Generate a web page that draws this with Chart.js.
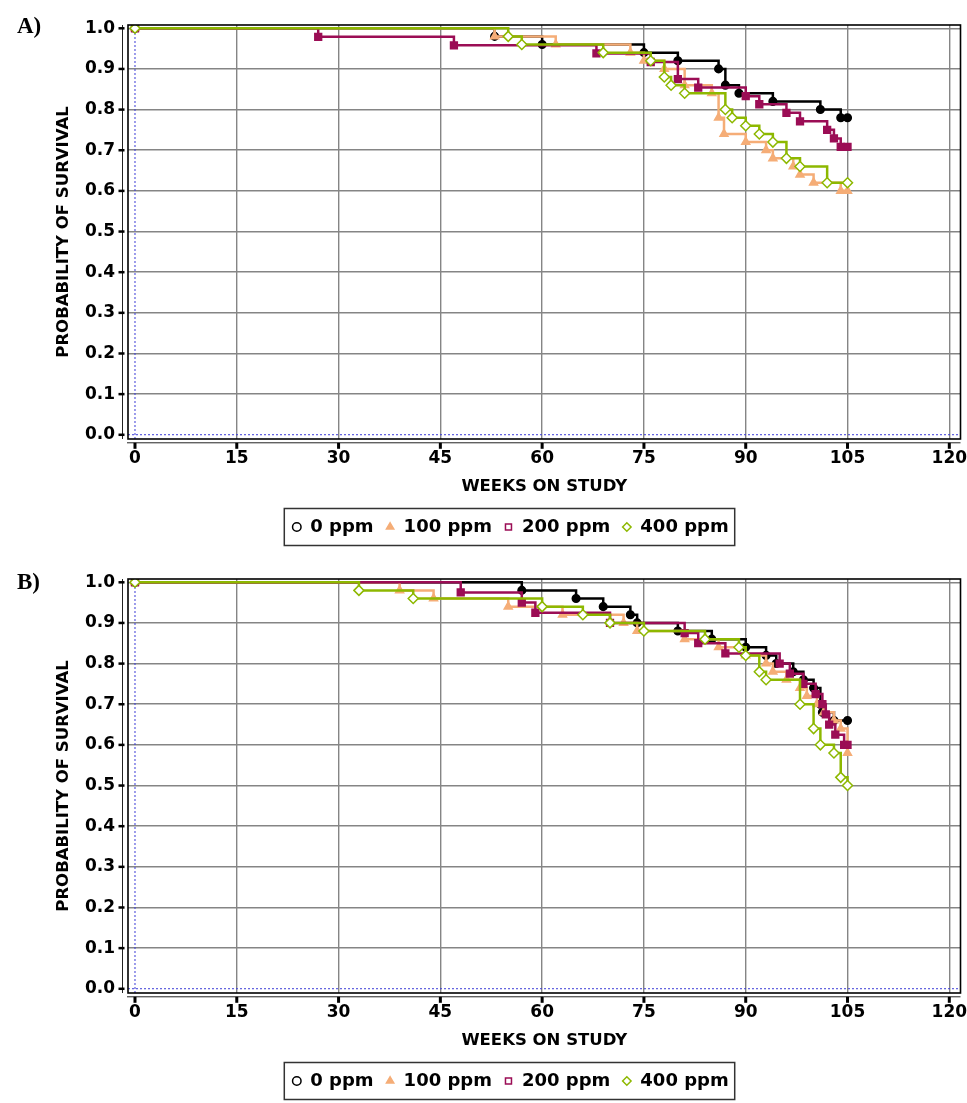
<!DOCTYPE html>
<html>
<head>
<meta charset="utf-8">
<script src="https://cdn.jsdelivr.net/npm/chart.js@4.4.0/dist/chart.umd.min.js"></script>
<style>
html,body{margin:0;padding:0;background:#fff;overflow:hidden;width:967px;height:1103px;}
.panel{position:absolute;left:0;width:967px;height:552px;}
.lab{position:absolute;left:17px;font-family:"Liberation Serif","Times New Roman",serif;font-weight:bold;font-size:23px;line-height:1;color:#000;}
</style>
</head>
<body>
<div class="panel" style="top:0px"><canvas id="cA" width="967" height="552"></canvas></div>
<div class="panel" style="top:554px"><canvas id="cB" width="967" height="552"></canvas></div>
<div class="lab" style="top:14px">A)</div>
<div class="lab" style="top:570px">B)</div>
<script>
// ---------- data ----------
const seriesLabels = ['0 ppm', '100 ppm', '200 ppm', '400 ppm'];
const weekTicks = [0, 15, 30, 45, 60, 75, 90, 105, 120];
const survTicks = [0.0, 0.1, 0.2, 0.3, 0.4, 0.5, 0.6, 0.7, 0.8, 0.9, 1.0];
const xTitle = 'WEEKS ON STUDY';
const yTitle = 'PROBABILITY OF SURVIVAL';

// Panel A
const weeksA0 = [0, 53, 60, 75, 80, 86, 87, 89, 94, 101, 104, 105];
const survA0  = [1.0, 0.98, 0.96, 0.94, 0.92, 0.90, 0.86, 0.84, 0.82, 0.80, 0.78, 0.78];
const weeksA100 = [0, 53, 62, 73, 75, 78, 81, 85, 86, 86.8, 90, 93, 94, 97, 98, 100, 104, 105];
const survA100  = [1.0, 0.98, 0.96, 0.94, 0.92, 0.90, 0.86, 0.84, 0.78, 0.74, 0.72, 0.70, 0.68, 0.66, 0.64, 0.62, 0.60, 0.60];
const weeksA200 = [0, 27, 47, 68, 76, 80, 83, 90, 92, 96, 98, 102, 103, 104, 105];
const survA200  = [1.0, 0.979, 0.958, 0.938, 0.917, 0.875, 0.854, 0.833, 0.813, 0.792, 0.771, 0.75, 0.729, 0.708, 0.708];
const weeksA400 = [0, 55, 57, 69, 76, 78, 79, 81, 87, 88, 90, 92, 94, 96, 98, 102, 105];
const survA400  = [1.0, 0.98, 0.96, 0.94, 0.92, 0.88, 0.86, 0.84, 0.80, 0.78, 0.76, 0.74, 0.72, 0.68, 0.66, 0.62, 0.62];

// Panel B
const weeksB0 = [0, 57, 65, 69, 73, 74, 80, 85, 90, 93, 94.5, 97, 98.5, 100, 101, 101.3, 103, 105];
const survB0  = [1.0, 0.98, 0.96, 0.94, 0.92, 0.90, 0.88, 0.86, 0.84, 0.82, 0.80, 0.78, 0.76, 0.74, 0.70, 0.68, 0.66, 0.66];
const weeksB100 = [0, 39, 44, 55, 63, 72, 74, 81, 86, 90, 93, 94, 96, 98, 99, 100.5, 101.5, 103, 104, 105];
const survB100  = [1.0, 0.98, 0.96, 0.94, 0.92, 0.90, 0.88, 0.86, 0.84, 0.82, 0.80, 0.78, 0.76, 0.74, 0.72, 0.70, 0.68, 0.66, 0.64, 0.58];
const weeksB200 = [0, 48, 57, 59, 70, 81, 83, 87, 95, 96.5, 98.5, 100.3, 101.3, 101.8, 102.3, 103.2, 104.5, 105];
const survB200  = [1.0, 0.975, 0.95, 0.925, 0.90, 0.875, 0.85, 0.825, 0.80, 0.775, 0.75, 0.725, 0.70, 0.675, 0.65, 0.625, 0.60, 0.60];
const weeksB400 = [0, 33, 41, 60, 66, 70, 75, 84, 89, 90, 92, 93, 98, 100, 101, 103, 104, 105];
const survB400  = [1.0, 0.98, 0.96, 0.94, 0.92, 0.90, 0.88, 0.86, 0.84, 0.82, 0.78, 0.76, 0.70, 0.64, 0.60, 0.58, 0.52, 0.50];

// ---------- styles ----------
const FONT = 'DejaVu Sans';
const styles = [
  {color: '#000000', pointStyle: 'circle',   radius: 3.8, fill: '#000000', legendFill: '#ffffff', order: 3},
  {color: '#f5ad77', pointStyle: 'triangle', radius: 4.6, fill: '#f5ad77', legendFill: '#f5ad77', order: 2},
  {color: '#9b0d55', pointStyle: 'rect',     radius: 4.8, fill: '#9b0d55', legendFill: '#ffffff', order: 1},
  {color: '#8db800', pointStyle: 'rectRot',  radius: 5.0, fill: '#ffffff', legendFill: '#ffffff', order: 0}
];
const LEG_SHIFT = 29;

const decor = {
  id: 'decor',
  afterLayout(chart) {
    const lg = chart.legend;
    if (lg) { lg.left += LEG_SHIFT; lg.right += LEG_SHIFT; }
  },
  beforeDatasetsDraw(chart) {
    const {ctx, chartArea: a, scales: {x, y}} = chart;
    const x0 = x.getPixelForValue(0), y0 = y.getPixelForValue(0);
    ctx.save();
    ctx.strokeStyle = '#3b3bd6';
    ctx.lineWidth = 1;
    ctx.setLineDash([2, 2]);
    ctx.beginPath();
    ctx.moveTo(x0, a.top); ctx.lineTo(x0, a.bottom);
    ctx.moveTo(a.left, y0); ctx.lineTo(a.right, y0);
    ctx.stroke();
    ctx.restore();
  },
  afterDraw(chart) {
    const {ctx, chartArea: a, scales: {x, y}} = chart;
    ctx.save();
    ctx.strokeStyle = '#000';
    ctx.lineWidth = 1.6;
    ctx.strokeRect(a.left, a.top, a.right - a.left, a.bottom - a.top);
    const axX = a.left - 5.5, axY = a.bottom + 3.8;
    ctx.lineWidth = 1;
    ctx.strokeStyle = '#222';
    ctx.beginPath();
    ctx.moveTo(axX, a.top); ctx.lineTo(axX, a.bottom);
    ctx.moveTo(a.left - 1, axY); ctx.lineTo(a.right, axY);
    ctx.stroke();
    ctx.fillStyle = '#000';
    y.ticks.forEach(t => {
      const py = y.getPixelForValue(t.value);
      ctx.fillRect(axX - 4, py - 1.2, 6, 2.5);
    });
    x.ticks.forEach(t => {
      const px = x.getPixelForValue(t.value);
      ctx.fillRect(px - 1.5, axY, 3, 6);
    });
    const hbs = chart.legend && chart.legend.legendHitBoxes;
    if (hbs && hbs.length) {
      const last = hbs[hbs.length - 1];
      const l = hbs[0].left - 8;
      const r = last.left + last.width + 6;
      const cy = hbs[0].top + hbs[0].height / 2;
      ctx.strokeStyle = '#333';
      ctx.lineWidth = 1.5;
      ctx.strokeRect(l, cy - 18.5, r - l, 37);
    }
    ctx.restore();
  }
};

function makeDataset(i, weeks, surv) {
  const s = styles[i];
  return {
    label: seriesLabels[i],
    data: weeks.map((w, k) => ({x: w, y: surv[k]})),
    stepped: true,
    order: s.order,
    borderColor: s.color,
    borderWidth: 2.5,
    pointStyle: s.pointStyle,
    pointRadius: s.radius,
    pointBackgroundColor: s.fill,
    pointBorderColor: s.color,
    pointBorderWidth: 1.5,
    fill: false,
    tension: 0
  };
}

function makeChart(id, sets) {
  const gridColor = c => (c.tick && c.tick.value === 0) ? 'rgba(0,0,0,0)' : '#858585';
  return new Chart(document.getElementById(id), {
    type: 'line',
    data: {datasets: sets.map((s, i) => makeDataset(i, s[0], s[1]))},
    options: {
      responsive: false,
      animation: false,
      layout: {padding: {top: 25, left: 0, right: 4, bottom: 6}},
      scales: {
        x: {
          type: 'linear', min: -1.03, max: 121.65,
          afterBuildTicks: sc => { sc.ticks = weekTicks.map(v => ({value: v})); },
          afterFit: sc => { sc.height = 67; sc.paddingLeft = 0; sc.paddingRight = 0; },
          grid: {color: gridColor, lineWidth: 1.4, drawTicks: false},
          border: {display: false},
          ticks: {color: '#000', font: {family: FONT, weight: 'bold', size: 17}, padding: 9,
                  maxRotation: 0, autoSkip: false, callback: v => String(v)},
          title: {display: true, text: xTitle, color: '#000',
                  font: {family: FONT, weight: 'bold', size: 16.5}, padding: {top: 0, bottom: 9}}
        },
        y: {
          type: 'linear', min: -0.0105, max: 1.008,
          afterBuildTicks: sc => { sc.ticks = survTicks.map(v => ({value: v})); },
          afterFit: sc => { sc.width = 128; sc.paddingTop = 0; sc.paddingBottom = 0; },
          grid: {color: gridColor, lineWidth: 1.4, drawTicks: false},
          border: {display: false},
          ticks: {color: '#000', font: {family: FONT, weight: 'bold', size: 17}, padding: 13,
                  autoSkip: false, callback: v => Number(v).toFixed(1)},
          title: {display: true, text: yTitle, color: '#000',
                  font: {family: FONT, weight: 'bold', size: 16.5}, padding: {top: 54, bottom: 0}}
        }
      },
      plugins: {
        tooltip: {enabled: false},
        legend: {
          position: 'bottom',
          labels: {
            color: '#000',
            font: {family: FONT, weight: 'bold', size: 18},
            usePointStyle: true,
            boxWidth: 9,
            boxHeight: 6,
            padding: 12,
            generateLabels: () => seriesLabels.map((t, i) => ({
              text: t,
              pointStyle: styles[i].pointStyle,
              fillStyle: styles[i].legendFill,
              strokeStyle: styles[i].color,
              lineWidth: 1.5,
              fontColor: '#000',
              hidden: false,
              datasetIndex: i
            }))
          }
        }
      }
    },
    plugins: [decor]
  });
}

makeChart('cA', [[weeksA0, survA0], [weeksA100, survA100], [weeksA200, survA200], [weeksA400, survA400]]);
makeChart('cB', [[weeksB0, survB0], [weeksB100, survB100], [weeksB200, survB200], [weeksB400, survB400]]);
</script>
</body>
</html>
